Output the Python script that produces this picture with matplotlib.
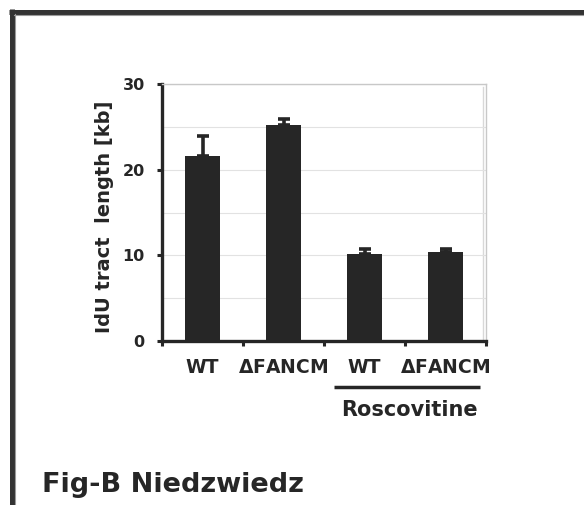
import numpy as np
import matplotlib
matplotlib.use("Agg")
import matplotlib.pyplot as plt
from matplotlib.lines import Line2D
from matplotlib.ticker import MultipleLocator, FixedLocator

# data
groups = ["WT", r"$\Delta$FANCM", "WT", r"$\Delta$FANCM"]
tract_kb = [21.6, 25.2, 10.1, 10.4]
err_kb = [2.35, 0.7, 0.6, 0.35]
treated = [2, 3]          # indices under the "Roscovitine" bar
treat_label = "Roscovitine"
ylabel = "IdU tract  length [kb]"
title = "Fig-B Niedzwiedz"

INK = "#262626"
plt.rcParams["font.family"] = "DejaVu Sans"
plt.rcParams["font.weight"] = "bold"
plt.rcParams["mathtext.default"] = "regular"

W, H = 584, 505
fig = plt.figure(figsize=(W / 100, H / 100), dpi=100)
ax = fig.add_axes([162 / W, 1 - 341 / H, 324 / W, 257 / H])

x = np.arange(len(tract_kb)) + 0.5
ax.bar(x, tract_kb, width=0.42, color=INK, zorder=3)
ax.errorbar(x, tract_kb, yerr=[np.zeros(len(err_kb)), err_kb], fmt="none",
            ecolor=INK, elinewidth=2.6, capsize=4.2, capthick=2.6, zorder=3)

ax.set_xlim(0, len(tract_kb))
ax.set_ylim(0, 30)
ax.yaxis.set_major_locator(MultipleLocator(10))
ax.yaxis.set_minor_locator(MultipleLocator(5))
ax.grid(axis="y", which="both", color="#e2e2e2", lw=0.8, zorder=0)

# category ticks at the boundaries, labels at the centres
ax.xaxis.set_major_locator(FixedLocator(np.arange(len(tract_kb) + 1)))
ax.xaxis.set_minor_locator(FixedLocator(x))
ax.set_xticklabels([], minor=False)
ax.set_xticklabels(groups, minor=True)
ax.tick_params(axis="x", which="major", length=3.5, width=2.2, color=INK)
ax.tick_params(axis="x", which="minor", length=0, pad=12, labelsize=13.5,
               labelcolor=INK)
ax.tick_params(axis="y", which="major", length=3.5, width=2.2, color=INK,
               pad=9, labelsize=11.5, labelcolor=INK)
ax.tick_params(axis="y", which="minor", length=0)

for s in ["left", "bottom"]:
    ax.spines[s].set_linewidth(2.4)
    ax.spines[s].set_color(INK)
for s in ["top", "right"]:
    ax.spines[s].set_linewidth(1.0)
    ax.spines[s].set_color("#c8c8c8")
ax.plot([0.991, 0.991], [0, 0.99], transform=ax.transAxes, color="#d8d8d8",
        lw=1.0, clip_on=False, zorder=1)

# treatment bracket
trans = ax.get_xaxis_transform()
x0 = x[treated[0]] - 0.38
x1 = x[treated[-1]] + 0.43
ax.plot([x0, x1], [-0.178, -0.178], transform=trans, color=INK, lw=2.5,
        clip_on=False, solid_capstyle="butt")
ax.text(x[treated].mean() + 0.056, -0.268, treat_label, transform=trans,
        ha="center", va="center", fontsize=15, color=INK)

fig.text(104 / W, 1 - 217 / H, ylabel, rotation=90, ha="center", va="center",
         fontsize=14, color=INK)
fig.text(41.7 / W, 1 - 491.7 / H, title, ha="left", va="baseline",
         fontsize=19.5, color=INK)

# page frame
fig.add_artist(Line2D([11.5 / W, 11.5 / W], [0, 1 - 9 / H], color="#333333",
                      lw=3.6, solid_capstyle="butt"))
fig.add_artist(Line2D([9 / W, 1], [1 - 11.5 / H, 1 - 11.5 / H],
                      color="#333333", lw=3.6, solid_capstyle="butt"))
fig.add_artist(Line2D([14.5 / W, 14.5 / W], [0, 1 - 14 / H], color="#9a9a9a",
                      lw=0.8))
fig.add_artist(Line2D([14 / W, 1], [1 - 14.5 / H, 1 - 14.5 / H],
                      color="#9a9a9a", lw=0.8))

fig.savefig("out.png", dpi=100)
